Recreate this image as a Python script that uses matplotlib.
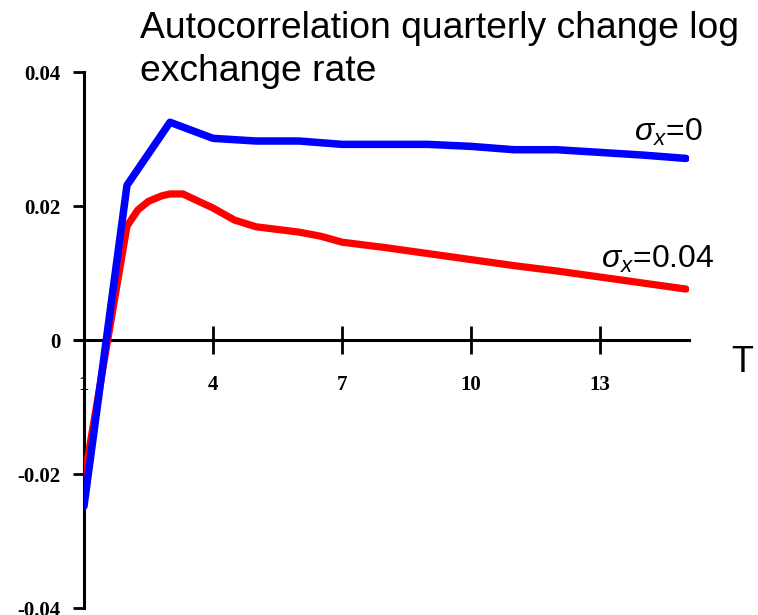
import matplotlib
matplotlib.use("Agg")
import matplotlib.pyplot as plt
from matplotlib import font_manager

# data
t_blue = [1, 2, 3, 4, 5, 6, 7, 8, 9, 10, 11, 12, 13, 14, 15]
ac_blue = [-0.0248, 0.0231, 0.0325, 0.0301, 0.0297, 0.0297, 0.0292, 0.0292,
           0.0292, 0.0289, 0.0284, 0.0284, 0.0280, 0.0276, 0.0271]

t_red = [1, 2, 2.25, 2.5, 2.8, 3, 3.3, 4, 4.5, 5, 6, 6.5, 7, 8, 9, 10, 11, 12, 13, 14, 15]
ac_red = [-0.0209, 0.0170, 0.0194, 0.0207, 0.0215, 0.0218, 0.0218, 0.0197,
          0.0179, 0.0169, 0.0161, 0.0155, 0.0146, 0.0138, 0.0129, 0.0120,
          0.0111, 0.0103, 0.0094, 0.0085, 0.0076]

xticks = [1, 4, 7, 10, 13]
yticks = [-0.04, -0.02, 0, 0.02, 0.04]
ytick_labels = ['-0.04', '-0.02', '0', '0.02', '0.04']

names = {f.name for f in font_manager.fontManager.ttflist}
sans = 'Liberation Sans Narrow' if 'Liberation Sans Narrow' in names else 'Liberation Sans'

plt.rcParams['mathtext.fontset'] = 'custom'
plt.rcParams['mathtext.rm'] = sans
plt.rcParams['mathtext.it'] = sans + ':italic'

fig = plt.figure(figsize=(7.58, 6.15), dpi=100)
W, H = 758, 615
x0, x1 = 84, 689
y0, y1 = 608, 72
ax = fig.add_axes([x0 / W, 1 - y0 / H, (x1 - x0) / W, (y0 - y1) / H])

ax.plot(t_red, ac_red, color='#ff0000', lw=5.2, solid_capstyle='round', solid_joinstyle='round', zorder=3)
ax.plot(t_blue, ac_blue, color='#0000ff', lw=5.4, solid_capstyle='round', solid_joinstyle='round', zorder=4)

ax.set_xlim(1, 15.07)
ax.set_ylim(-0.04, 0.04)

for s in ['top', 'right']:
    ax.spines[s].set_visible(False)
ax.spines['bottom'].set_position(('data', 0))
ax.spines['left'].set_position(('data', 1))
ax.spines['bottom'].set_linewidth(2.2)
ax.spines['left'].set_linewidth(2.2)
ax.spines['bottom'].set_bounds(0.78, 15.07)

ax.set_xticks(xticks)
ax.set_xticklabels([str(v) for v in xticks])
ax.set_yticks(yticks)
ax.set_yticklabels(ytick_labels)
ax.tick_params(axis='x', direction='inout', length=20, width=2, pad=15)
ax.tick_params(axis='y', direction='out', length=8, width=2, pad=9)
for lab in ax.get_xticklabels() + ax.get_yticklabels():
    lab.set_fontfamily('Liberation Serif')
    lab.set_fontweight('bold')
    lab.set_fontsize(15)

fig.text(140 / W, 1 - 38 / H, 'Autocorrelation quarterly change log',
         fontfamily=sans, fontsize=26.8, ha='left', va='baseline')
fig.text(140 / W, 1 - 81 / H, 'exchange rate',
         fontfamily=sans, fontsize=26.8, ha='left', va='baseline')
fig.text(731 / W, 1 - 372 / H, 'T', fontfamily=sans, fontsize=26, ha='left', va='baseline')
ax.text(14.58, 0.0297, r'$\sigma_x$=0', fontfamily=sans, fontsize=23, ha='center', va='baseline')
ax.text(14.35, 0.01075, r'$\sigma_x$=0.04', fontfamily=sans, fontsize=23, ha='center', va='baseline')

fig.savefig('out.png', dpi=100)
